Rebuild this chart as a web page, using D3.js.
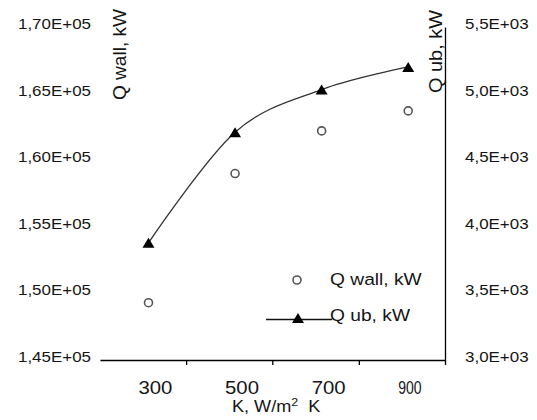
<!DOCTYPE html>
<html>
<head>
<meta charset="utf-8">
<script src="https://cdn.jsdelivr.net/npm/d3@7"></script>
<style>
  html, body { margin: 0; padding: 0; background: #fff; }
  svg { display: block; font-family: "Liberation Sans", Arial, sans-serif; }
</style>
</head>
<body>
<div id="chart"></div>
<script>
// values
const kValues = [300, 500, 700, 900];
const qWall = [149300, 159000, 162200, 163700];   // left axis
const qUb = [3880, 4710, 5030, 5200];             // right axis

const leftTicks = [145000, 150000, 155000, 160000, 165000, 170000];
const rightTicks = [3000, 3500, 4000, 4500, 5000, 5500];
const xLabels = [300, 500, 700, 900];
const xTickMarks = [387, 586, 786, 985];

const W = 537, H = 420;
const STRETCH = 1.13; // text in the picture is a bit wide

const svg = d3.select('#chart').append('svg')
    .attr('width', W)
    .attr('height', H);

const x = d3.scaleLinear().domain([188, 985]).range([100, 445]);
const yL = d3.scaleLinear().domain([145000, 170000]).range([360, 27]);
const yR = d3.scaleLinear().domain([3000, 5500]).range([360, 27]);

function txt(g, px, py, s, size, anchor, sx) {
    return g.append('text')
        .attr('transform', `translate(${px},${py}) scale(${sx || STRETCH},1)`)
        .attr('font-size', size)
        .attr('text-anchor', anchor || 'start')
        .attr('fill', '#151515')
        .text(s);
}

// axes
svg.append('g')
    .attr('transform', 'translate(0,360)')
    .call(d3.axisBottom(x).tickValues(xTickMarks).tickSizeInner(5).tickSizeOuter(0).tickFormat(''))
    .call(g => g.selectAll('path, line').attr('stroke', '#000').attr('stroke-width', 1.3));

svg.append('g')
    .attr('transform', 'translate(445,0)')
    .call(d3.axisRight(yR).tickValues([]).tickSizeOuter(0))
    .call(g => g.select('path').attr('stroke', '#000').attr('stroke-width', 1.3));

// tick labels
const fmtL = v => (v / 1e5).toFixed(2).replace('.', ',') + 'E+05';
const fmtR = v => (v / 1e3).toFixed(1).replace('.', ',') + 'E+03';
const lab = svg.append('g');
leftTicks.forEach(v => txt(lab, 91, yL(v) + 2, fmtL(v), 15, 'end'));
rightTicks.forEach(v => txt(lab, 465, yR(v) + 2, fmtR(v), 15, 'start'));
xLabels.forEach((v, i) => {
    txt(lab, x(v) - 10, 394, String(v), 18, 'start', i === xLabels.length - 1 ? 0.78 : STRETCH);
});

// axis titles
const xt = svg.append('text')
    .attr('transform', `translate(232,412) scale(${STRETCH},1)`)
    .attr('font-size', 16)
    .attr('fill', '#151515');
xt.append('tspan').text('K, W/m');
xt.append('tspan').attr('font-size', 11).attr('dy', -6).text('2');
xt.append('tspan').attr('dy', 6).text('\u00a0\u00a0K');

svg.append('text')
    .attr('transform', `translate(126,100) rotate(-90) scale(1,${STRETCH})`)
    .attr('font-size', 16)
    .attr('fill', '#151515')
    .attr('textLength', 91)
    .attr('lengthAdjust', 'spacingAndGlyphs')
    .text('Q wall, kW');

svg.append('text')
    .attr('transform', `translate(442,93) rotate(-90) scale(1,${STRETCH})`)
    .attr('font-size', 16)
    .attr('fill', '#151515')
    .attr('textLength', 83)
    .attr('lengthAdjust', 'spacingAndGlyphs')
    .text('Q ub, kW');

// Q ub smoothed line + triangles
const ubPts = kValues.map((k, i) => [x(k), yR(qUb[i])]);
svg.append('path')
    .datum(ubPts)
    .attr('d', d3.line().curve(d3.curveCardinal.tension(0)))
    .attr('fill', 'none')
    .attr('stroke', '#333')
    .attr('stroke-width', 1.3);

const tri = 'M0,-5L6,5L-6,5Z';
svg.append('g').selectAll('path')
    .data(ubPts)
    .join('path')
    .attr('d', tri)
    .attr('transform', d => `translate(${d[0]},${d[1]})`)
    .attr('fill', '#000');

// Q wall circles
svg.append('g').selectAll('circle')
    .data(kValues.map((k, i) => [x(k), yL(qWall[i])]))
    .join('circle')
    .attr('cx', d => d[0])
    .attr('cy', d => d[1])
    .attr('r', 4)
    .attr('fill', '#fff')
    .attr('stroke', '#555')
    .attr('stroke-width', 1.6);

// legend
const lg = svg.append('g');
lg.append('circle').attr('cx', 297).attr('cy', 280).attr('r', 4)
    .attr('fill', '#fff').attr('stroke', '#555').attr('stroke-width', 1.6);
txt(lg, 330, 285, 'Q wall, kW', 17, 'start');
lg.append('line').attr('x1', 266).attr('x2', 332).attr('y1', 319.5).attr('y2', 319.5)
    .attr('stroke', '#111').attr('stroke-width', 1.3);
lg.append('path').attr('d', tri).attr('transform', 'translate(298,318)').attr('fill', '#000');
txt(lg, 330, 321, 'Q ub, kW', 17, 'start');
</script>
</body>
</html>
